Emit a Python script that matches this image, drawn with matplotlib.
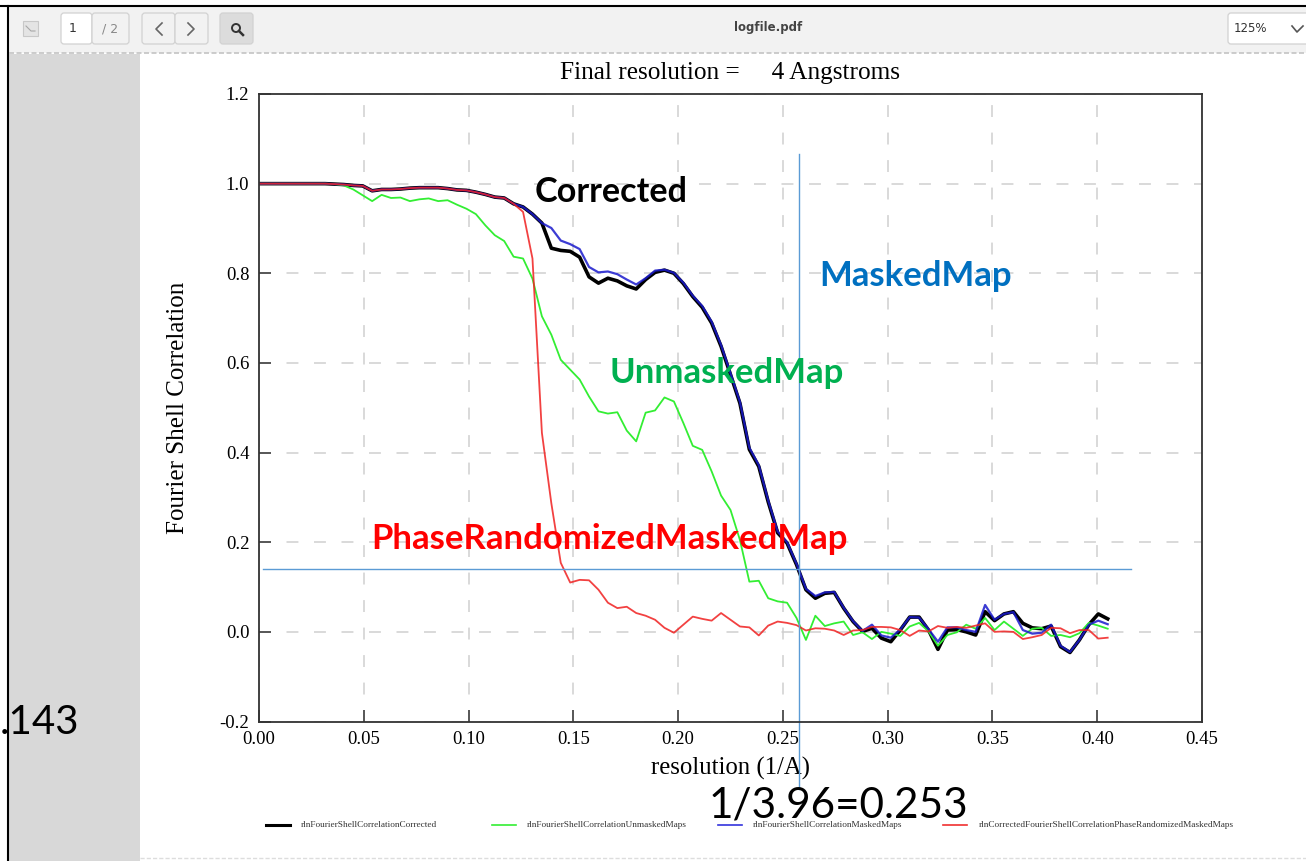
import matplotlib
matplotlib.use("Agg")
import matplotlib.pyplot as plt
from matplotlib.patches import FancyBboxPatch, Rectangle, Circle

# resolution shells
resolution = [0.0000, 0.0045, 0.0090, 0.0135, 0.0180, 0.0225, 0.0270, 0.0315, 0.0360, 0.0405,
              0.0450, 0.0495, 0.0540, 0.0585, 0.0630, 0.0675, 0.0720, 0.0765, 0.0810, 0.0855,
              0.0900, 0.0945, 0.0990, 0.1035, 0.1080, 0.1125, 0.1170, 0.1215, 0.1260, 0.1305,
              0.1350, 0.1395, 0.1440, 0.1485, 0.1530, 0.1575, 0.1620, 0.1665, 0.1710, 0.1755,
              0.1800, 0.1845, 0.1890, 0.1935, 0.1980, 0.2025, 0.2070, 0.2115, 0.2160, 0.2205,
              0.2250, 0.2295, 0.2340, 0.2385, 0.2430, 0.2475, 0.2520, 0.2565, 0.2610, 0.2655,
              0.2700, 0.2745, 0.2790, 0.2835, 0.2880, 0.2925, 0.2970, 0.3015, 0.3060, 0.3105,
              0.3150, 0.3195, 0.3240, 0.3285, 0.3330, 0.3375, 0.3420, 0.3465, 0.3510, 0.3555,
              0.3600, 0.3645, 0.3690, 0.3735, 0.3780, 0.3825, 0.3870, 0.3915, 0.3960, 0.4005,
              0.4050]

corrected = [1.000, 1.000, 1.000, 1.000, 1.000, 1.000, 1.000, 1.000, 0.999, 0.998,
             0.996, 0.995, 0.984, 0.987, 0.987, 0.988, 0.990, 0.991, 0.991, 0.991,
             0.989, 0.986, 0.985, 0.981, 0.976, 0.970, 0.968, 0.955, 0.948, 0.932,
             0.912, 0.856, 0.851, 0.849, 0.836, 0.792, 0.778, 0.789, 0.783, 0.772,
             0.765, 0.786, 0.802, 0.807, 0.800, 0.777, 0.748, 0.724, 0.689, 0.637,
             0.574, 0.510, 0.407, 0.369, 0.290, 0.221, 0.198, 0.150, 0.094, 0.075,
             0.086, 0.088, 0.053, 0.023, 0.001, 0.008, -0.014, -0.022, 0.004, 0.033,
             0.033, 0.004, -0.039, 0.004, 0.005, 0.000, -0.007, 0.045, 0.025, 0.040,
             0.045, 0.019, 0.009, 0.007, 0.013, -0.033, -0.046, -0.018, 0.016, 0.040,
             0.029]

unmasked = [1.000, 1.000, 1.000, 1.000, 1.000, 1.000, 1.000, 1.000, 0.999, 0.996,
            0.987, 0.974, 0.961, 0.975, 0.968, 0.969, 0.961, 0.965, 0.967, 0.961,
            0.963, 0.953, 0.944, 0.932, 0.907, 0.885, 0.872, 0.837, 0.833, 0.788,
            0.704, 0.663, 0.607, 0.585, 0.563, 0.525, 0.492, 0.487, 0.490, 0.449,
            0.425, 0.489, 0.494, 0.523, 0.514, 0.466, 0.415, 0.406, 0.358, 0.304,
            0.272, 0.205, 0.112, 0.114, 0.075, 0.068, 0.065, 0.031, -0.018, 0.036,
            0.013, 0.019, 0.023, -0.007, -0.001, -0.016, 0.000, -0.004, -0.009, 0.012,
            0.020, 0.001, -0.031, -0.007, -0.001, 0.016, 0.007, 0.031, 0.004, 0.023,
            0.007, -0.009, 0.007, 0.009, -0.009, -0.007, -0.012, -0.003, 0.020, 0.014,
            0.007]

masked = [1.000, 1.000, 1.000, 1.000, 1.000, 1.000, 1.000, 1.000, 0.999, 0.998,
          0.996, 0.995, 0.984, 0.987, 0.987, 0.988, 0.990, 0.991, 0.991, 0.991,
          0.989, 0.986, 0.985, 0.981, 0.976, 0.970, 0.968, 0.955, 0.948, 0.932,
          0.912, 0.901, 0.873, 0.865, 0.854, 0.814, 0.802, 0.804, 0.798, 0.786,
          0.775, 0.789, 0.806, 0.808, 0.801, 0.779, 0.750, 0.727, 0.692, 0.640,
          0.577, 0.513, 0.411, 0.372, 0.293, 0.224, 0.200, 0.152, 0.096, 0.080,
          0.088, 0.089, 0.054, 0.024, 0.002, 0.016, -0.008, -0.013, 0.005, 0.033,
          0.032, 0.006, -0.022, 0.010, 0.010, 0.004, 0.000, 0.060, 0.027, 0.040,
          0.044, 0.004, -0.004, -0.002, 0.016, -0.031, -0.045, -0.018, 0.016, 0.025,
          0.017]

phase_randomized = [1.000, 1.000, 1.000, 1.000, 1.000, 1.000, 1.000, 1.000, 0.999, 0.998,
                    0.996, 0.995, 0.984, 0.987, 0.987, 0.988, 0.990, 0.991, 0.991, 0.991,
                    0.989, 0.986, 0.985, 0.981, 0.976, 0.970, 0.968, 0.955, 0.937, 0.833,
                    0.444, 0.287, 0.154, 0.110, 0.116, 0.115, 0.094, 0.065, 0.053, 0.056,
                    0.042, 0.036, 0.027, 0.009, -0.002, 0.016, 0.034, 0.029, 0.025, 0.042,
                    0.027, 0.012, 0.010, -0.008, 0.014, 0.023, 0.020, 0.015, 0.003, 0.008,
                    0.007, 0.003, -0.007, 0.003, 0.004, 0.011, 0.011, 0.010, 0.004, -0.009,
                    0.003, 0.001, 0.013, 0.009, 0.011, 0.009, 0.014, 0.019, 0.000, 0.001,
                    0.000, -0.016, -0.012, -0.007, 0.009, 0.008, -0.003, 0.004, 0.004, -0.015,
                    -0.013]

x_ticks = [0.00, 0.05, 0.10, 0.15, 0.20, 0.25, 0.30, 0.35, 0.40, 0.45]
y_ticks = [-0.2, 0.0, 0.2, 0.4, 0.6, 0.8, 1.0, 1.2]
fsc_threshold = 0.141
res_cutoff = 0.2577

legend_names = ["rlnFourierShellCorrelationCorrected", "rlnFourierShellCorrelationUnmaskedMaps",
                "rlnFourierShellCorrelationMaskedMaps", "rlnCorrectedFourierShellCorrelationPhaseRandomizedMaskedMaps"]
legend_line_x = [266, 492, 718, 943]
legend_text_x = [301, 527, 753, 979]

W, H = 1306, 861
fig = plt.figure(figsize=(W / 100, H / 100), dpi=100, facecolor="white")
serif = ["Liberation Serif", "DejaVu Serif"]

# the pdf viewer behind the plot, in pixel coords
bg = fig.add_axes([0, 0, 1, 1], zorder=0)
bg.set_xlim(0, W)
bg.set_ylim(H, 0)
bg.axis("off")
bg.add_patch(Rectangle((8, 7), W, 46, fc="#f2f2f2", ec="none"))
bg.add_patch(Rectangle((9, 54), 131, H, fc="#d8d8d8", ec="none"))
bg.plot([0, W], [6, 6], color="black", lw=1.5)
bg.plot([8, 8], [6, H], color="black", lw=1.5)
bg.plot([9, W], [53, 53], color="#c4c4c4", lw=1.2, ls=(0, (3, 1.5)))
bg.plot([140, W], [858, 858], color="#dddddd", lw=1, ls=(0, (3, 1.5)))


def box(x, y, w, h, fc):
    bg.add_patch(FancyBboxPatch((x, y), w, h, boxstyle="round,pad=0,rounding_size=3",
                                fc=fc, ec="#d2d2d2", lw=0.9))


box(61, 13, 31, 31, "white")
box(92, 13, 37, 31, "#f2f2f2")
box(142, 13, 33, 31, "#f2f2f2")
box(175, 13, 33, 31, "#f2f2f2")
box(220, 13, 33, 31, "#dcdcdc")
box(1228, 13, 90, 31, "white")
bg.add_patch(Rectangle((23, 21), 15, 15, fc="#e4e4e4", ec="#c8c8c8", lw=0.8))
bg.plot([26, 31, 35], [26, 31, 31], color="#a8a8a8", lw=0.8)
bg.plot([162, 156, 162], [23, 29, 35], color="#666666", lw=1.2)
bg.plot([188, 194, 188], [23, 29, 35], color="#666666", lw=1.2)
bg.add_patch(Circle((236, 28), 4, fc="none", ec="#333333", lw=1.4))
bg.plot([239, 243], [31, 35], color="#333333", lw=1.8)
bg.plot([1292, 1297, 1303], [26, 32, 26], color="#555555", lw=1.2)
bg.text(73, 29, "1", fontsize=9, ha="center", va="center", color="#333333")
bg.text(110, 29, "/ 2", fontsize=9, ha="center", va="center", color="#888888")
bg.text(768, 28, "logfile.pdf", fontsize=8.5, fontweight="bold", ha="center", va="center", color="#444444")
bg.text(1250, 29, "125%", fontsize=8.5, ha="center", va="center", color="#333333")

# the plot itself
ax = fig.add_axes([259 / W, 1 - 721.5 / H, (1202 - 259) / W, (721.5 - 94) / H], zorder=1)
ax.plot(resolution, corrected, color="black", lw=2.6)
ax.plot(resolution, unmasked, color="#33ee33", lw=1.3)
ax.plot(resolution, masked, color="#1a1acc", lw=1.6, alpha=0.85)
ax.plot(resolution, phase_randomized, color="#f02020", lw=1.3, alpha=0.85)
ax.set_xlim(0, 0.45)
ax.set_ylim(-0.2, 1.2)
ax.set_xticks(x_ticks)
ax.set_xticklabels(["%.2f" % t for t in x_ticks])
ax.set_yticks(y_ticks)
ax.set_yticklabels(["%.1f" % t for t in y_ticks])
ax.grid(True, color="#cfcfcf", lw=1.1, ls=(0, (7.8, 10.2)))
ax.set_axisbelow(True)
ax.tick_params(direction="in", length=8.5, width=1.1, color="#333333", labelsize=13.5, pad=7)
for lab in ax.get_xticklabels() + ax.get_yticklabels():
    lab.set_family(serif)
for s in ax.spines.values():
    s.set_linewidth(1.3)
    s.set_color("#333333")
ax.set_xlabel("resolution (1/A)", family=serif, fontsize=17.8, labelpad=6)
ax.set_ylabel("Fourier Shell Correlation", family=serif, fontsize=18, labelpad=22)
ax.set_title("Final resolution =     4 Angstroms", family=serif, fontsize=18.2, pad=11, x=0.5)

# threshold lines drawn over the plot
ax.plot([0.0019, 0.416], [fsc_threshold, fsc_threshold], color="#5b9bd5", lw=1, clip_on=False)
ax.plot([res_cutoff, res_cutoff], [1.067, -0.35], color="#5b9bd5", lw=1, clip_on=False)

# annotations and legend on a top layer
top = fig.add_axes([0, 0, 1, 1], zorder=2)
top.set_xlim(0, W)
top.set_ylim(H, 0)
top.axis("off")
label_font = "Lato"
top.text(535, 192, "Corrected", family=label_font, fontweight="bold", fontsize=24.6, color="black", va="center")
top.text(819, 276, "MaskedMap", family=label_font, fontweight="bold", fontsize=25, color="#0070c0", va="center")
top.text(609, 373, "UnmaskedMap", family=label_font, fontweight="bold", fontsize=25, color="#00b050", va="center")
top.text(371, 539, "PhaseRandomizedMaskedMap", family=label_font, fontweight="bold", fontsize=25, color="#ff0000", va="center")
top.text(79, 722, ".143", family=label_font, fontsize=29, color="black", va="center", ha="right")
top.text(709, 805, "1/3.96=0.253", family=label_font, fontsize=30.4, color="black", va="center")

legend_colors = ["black", "#33ee33", "#3333dd", "#f03030"]
legend_widths = [2.2, 1.2, 1.2, 1.2]
for i in range(4):
    top.plot([legend_line_x[i], legend_line_x[i] + 24], [825, 825], color=legend_colors[i], lw=legend_widths[i])
    top.text(legend_text_x[i], 825, legend_names[i], family=serif, fontsize=6.7, va="center", color="#333333")

fig.savefig("out.png", dpi=100)
